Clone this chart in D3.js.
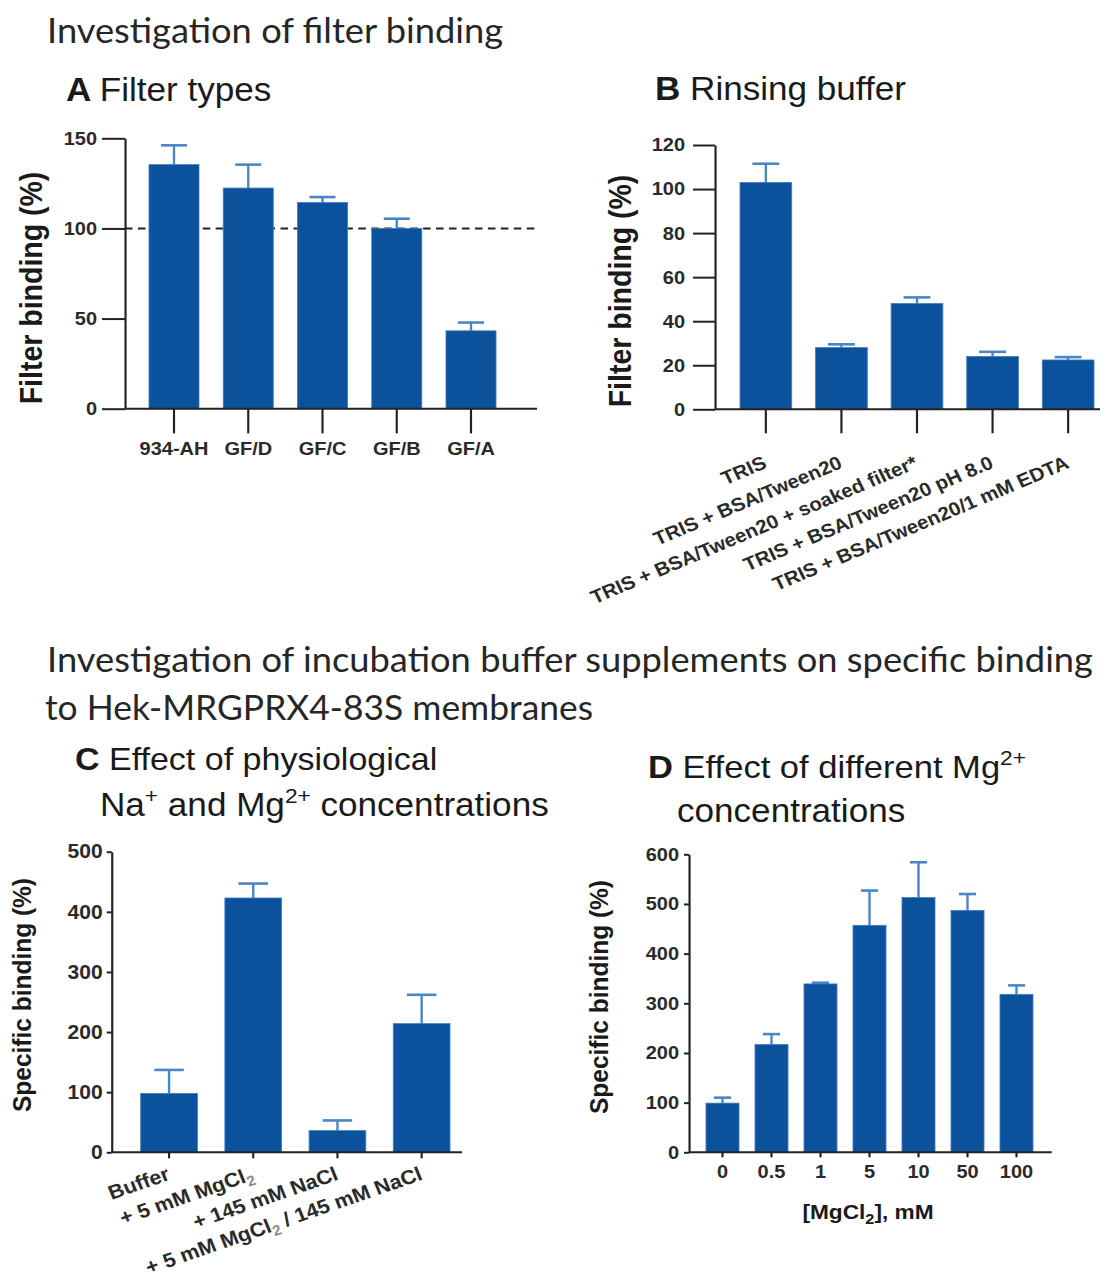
<!DOCTYPE html>
<html><head><meta charset="utf-8">
<script src="https://cdn.jsdelivr.net/npm/d3@7"></script>
<style>body{margin:0;background:#fff}</style>
</head><body><svg id="c" width="1108" height="1279"></svg>
<script>
// ---------- data ----------
const aCats = ["934-AH","GF/D","GF/C","GF/B","GF/A"];
const aMean = [135.4,122.4,114.4,100,43.2];
const aErr  = [10.7,13,3,5.4,4.6];
const aTicks = [0,50,100,150];
const aRef = 100;

const bCats = ["TRIS","TRIS + BSA/Tween20","TRIS + BSA/Tween20 + soaked filter*","TRIS + BSA/Tween20 pH 8.0","TRIS + BSA/Tween20/1 mM EDTA"];
const bMean = [103,28,48,24,22.4];
const bErr  = [8.5,1.5,2.8,2.1,1.3];
const bTicks = [0,20,40,60,80,100,120];

const cCats = ["Buffer","+ 5 mM MgCl₂","+ 145 mM NaCl","+ 5 mM MgCl₂ / 145 mM NaCl"];
const cMean = [98,423,36,214];
const cErr  = [39,24,17,48];
const cTicks = [0,100,200,300,400,500];

const dCats = ["0","0.5","1","5","10","50","100"];
const dMean = [99,217,339,457,513,487,318];
const dErr  = [11,21,2.5,70,71,33,18];
const dTicks = [0,100,200,300,400,500,600];

// ---------- setup ----------
const SX = 1.08;            // horizontal stretch of the original figure
const ix = v => v / SX;
const svg = d3.select("#c");
const headG = svg.append("g");
const g = svg.append("g").attr("transform", `scale(${SX},1)`);
const ARIAL = "'Liberation Sans', Arial, sans-serif";
const BAR = "#0b519b", BAR_EDGE = "#3f7dbf", ERR = "#4a86c4", INK = "#222";

function addSubText(sel, str, subFill){
  const parts = str.split("₂");
  parts.forEach((p, i) => {
    if (i > 0) {
      sel.append("tspan").attr("dy", 5).attr("font-size", "0.72em").attr("fill", subFill).text("2");
      if (p.length) sel.append("tspan").attr("dy", -5).text(p);
    } else if (p.length) sel.append("tspan").text(p);
  });
}

function panel(o){
  const n = o.cats.length, L = o.lastRight - o.firstLeft;
  const p = (L - n*o.bw) / (L - o.bw);
  const x = d3.scaleBand().domain(o.cats).range([ix(o.firstLeft), ix(o.lastRight)]).paddingInner(p).paddingOuter(0);
  const y = d3.scaleLinear().domain([0, o.max]).range([o.y0, o.yTop]);
  const pg = g.append("g");
  const rows = o.cats.map((c,i) => ({c, m:o.mean[i], e:o.err[i]}));

  if (o.ref != null) {
    pg.append("line").attr("x1", ix(o.axisX)).attr("x2", ix(o.xEnd))
      .attr("y1", y(o.ref)).attr("y2", y(o.ref))
      .attr("stroke", INK).attr("stroke-width", 2).attr("stroke-dasharray", "7,5");
  }
  // error bars
  const eb = pg.selectAll("g.eb").data(rows).join("g").attr("class","eb");
  eb.append("line")
    .attr("x1", d => x(d.c) + x.bandwidth()/2).attr("x2", d => x(d.c) + x.bandwidth()/2)
    .attr("y1", d => y(d.m)).attr("y2", d => y(d.m + d.e))
    .attr("stroke", ERR).attr("stroke-width", 2.2);
  eb.append("line")
    .attr("x1", d => x(d.c) + x.bandwidth()*0.24).attr("x2", d => x(d.c) + x.bandwidth()*0.76)
    .attr("y1", d => y(d.m + d.e)).attr("y2", d => y(d.m + d.e))
    .attr("stroke", ERR).attr("stroke-width", 2.6);
  // bars
  pg.selectAll("rect.bar").data(rows).join("rect").attr("class","bar")
    .attr("x", d => x(d.c)).attr("width", x.bandwidth())
    .attr("y", d => y(d.m)).attr("height", d => y(0) - y(d.m))
    .attr("fill", BAR).attr("stroke", BAR_EDGE).attr("stroke-width", 0.8);

  // y axis
  const ya = pg.append("g").attr("transform", `translate(${ix(o.axisX)},0)`)
    .call(d3.axisLeft(y).tickValues(o.ticks).tickSize(o.yTick/SX).tickSizeOuter(0).tickPadding(o.yPad/SX));
  ya.selectAll("path,line").attr("stroke", INK).attr("stroke-width", 2);
  ya.selectAll("text").attr("font-family", ARIAL).attr("font-weight","bold")
    .attr("font-size", o.yfs || o.fs).attr("fill", "#2a2a2a");

  // x axis
  const xa = pg.append("g").attr("transform", `translate(0,${o.y0})`)
    .call(d3.axisBottom(x).tickSize(o.xTick).tickSizeOuter(0).tickPadding(o.xPad || 8)
      .tickFormat(o.rot ? () => "" : d => d));
  xa.select(".domain").remove();
  if (o.rot) xa.selectAll("text").remove();
  xa.selectAll("line").attr("stroke", INK).attr("stroke-width", 2);
  xa.selectAll("text").attr("font-family", ARIAL).attr("font-weight","bold")
    .attr("font-size", o.fs).attr("fill", "#2a2a2a");
  pg.append("line").attr("x1", ix(o.axisX)).attr("x2", ix(o.xEnd))
    .attr("y1", o.y0).attr("y2", o.y0).attr("stroke", INK).attr("stroke-width", 2);

  if (o.rot) {
    pg.selectAll("text.xl").data(rows).join("text").attr("class","xl")
      .attr("transform", d => `translate(${x(d.c) + x.bandwidth()/2 + o.lx/SX},${o.y0 + o.ly}) rotate(${o.rot})`)
      .attr("text-anchor", "end").attr("font-family", ARIAL).attr("font-weight","bold")
      .attr("font-size", o.fs).attr("fill", "#2a2a2a")
      .each(function(d){ addSubText(d3.select(this), d.c, "#8a8a8a"); });
  }
  // y title
  pg.append("text").attr("transform", `translate(${ix(o.tx)},${o.ty}) rotate(-90)`)
    .attr("text-anchor","middle").attr("font-family", ARIAL).attr("font-weight","bold")
    .attr("font-size", o.tfs).attr("fill", "#1a1a1a").text(o.title);
  return {x, y, pg};
}

// ---------- panels ----------
panel({cats:aCats, mean:aMean, err:aErr, ticks:aTicks, max:150, ref:aRef,
  y0:408.7, yTop:138.3, axisX:125, firstLeft:149, lastRight:496, bw:50, xEnd:537,
  yTick:23, xTick:24.7, yPad:5, xPad:8, fs:18.5, title:"Filter binding (%)", tx:42, ty:288, tfs:28.5});

panel({cats:bCats, mean:bMean, err:bErr, ticks:bTicks, max:120,
  y0:409.3, yTop:145, axisX:715, firstLeft:740, lastRight:1094, bw:51.7, xEnd:1100,
  yTick:22, xTick:24, yPad:8, fs:19, yfs:18.5, rot:-24.5, lx:2, ly:58,
  title:"Filter binding (%)", tx:631, ty:291, tfs:28.5});

panel({cats:cCats, mean:cMean, err:cErr, ticks:cTicks, max:500,
  y0:1152.3, yTop:851.7, axisX:111.7, firstLeft:140.7, lastRight:450, bw:56.7, xEnd:462,
  yTick:5, xTick:6, yPad:4, fs:20, yfs:19.5, rot:-20.5, lx:2, ly:27,
  title:"Specific binding (%)", tx:31, ty:995, tfs:24.5});

panel({cats:dCats, mean:dMean, err:dErr, ticks:dTicks, max:600,
  y0:1152.3, yTop:854.3, axisX:689, firstLeft:706, lastRight:1033, bw:33, xEnd:1051.7,
  yTick:5, xTick:5, yPad:5, xPad:8, fs:18.5,
  title:"Specific binding (%)", tx:608, ty:997, tfs:24.5});

// D x title
const dxt = g.append("text").attr("x", ix(868)).attr("y", 1219).attr("text-anchor","middle")
  .attr("font-family", ARIAL).attr("font-weight","bold").attr("font-size", 21).attr("fill", "#1a1a1a");
addSubText(dxt, "[MgCl₂], mM", "#1a1a1a");

// ---------- panel titles ----------
function ptitle(xp, yp, letter, rest, fsz){
  const t = g.append("text").attr("x", ix(xp)).attr("y", yp)
    .attr("font-family", ARIAL).attr("font-size", fsz || 32.5).attr("fill", "#1a1a1a");
  if (letter) t.append("tspan").attr("font-weight","bold").text(letter + " ");
  let pending = 0;
  rest.forEach(r => {
    if (typeof r === "object") {
      t.append("tspan").attr("dy", -13).attr("font-size", 21).text(r.sup);
      pending = 13;
    } else {
      const ts = t.append("tspan").text(r);
      if (pending) { ts.attr("dy", pending); pending = 0; }
    }
  });
  return t;
}
ptitle(66, 101, "A", ["Filter types"]);
ptitle(655, 100, "B", ["Rinsing buffer"]);
ptitle(75, 770, "C", ["Effect of physiological"], 31.5);
ptitle(100, 816, null, ["Na", {sup:"+"}, " and Mg", {sup:"2+"}, " concentrations"]);
ptitle(648, 778, "D", ["Effect of different Mg", {sup:"2+"}], 32);
ptitle(677, 822, null, ["concentrations"]);

// ---------- section titles (unstretched) ----------
const LATO = "Lato, 'Open Sans', sans-serif";
function stitle(xp, yp, txt, len){
  headG.append("text").attr("x", xp).attr("y", yp).attr("font-family", LATO)
    .attr("font-size", 34).attr("fill", "#262626")
    .attr("textLength", len).attr("lengthAdjust", "spacingAndGlyphs").text(txt);
}
stitle(47, 43, "Investigation of filter binding", 456);
stitle(47, 672, "Investigation of incubation buffer supplements on specific binding", 1046);
stitle(45, 720, "to Hek-MRGPRX4-83S membranes", 548);
</script>
</body></html>
